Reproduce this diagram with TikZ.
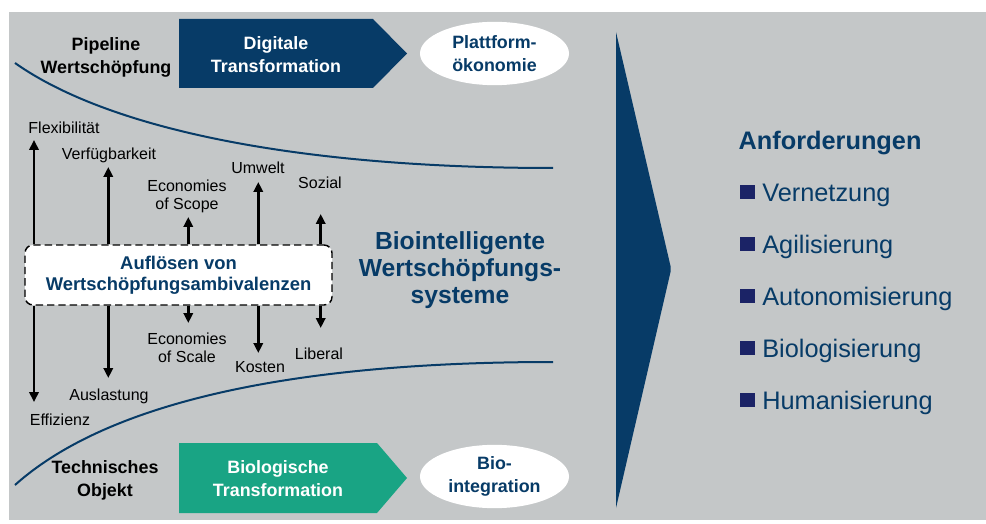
\documentclass[tikz,border=0pt]{standalone}
\usepackage{fontspec}
\setmainfont{Liberation Sans}
\usepackage{tikz}
\usetikzlibrary{arrows.meta,shapes.geometric}

\definecolor{bggray}{RGB}{196,199,200}
\definecolor{dblue}{RGB}{7,59,103}
\definecolor{biogreen}{RGB}{25,164,132}
\definecolor{navy}{RGB}{27,35,102}

\begin{document}
\begin{tikzpicture}[x=0.75pt,y=-0.75pt,
	lbl/.style={inner sep=0pt,font=\fontsize{12}{13.7}\selectfont,align=center},
	hdr/.style={inner sep=0pt,font=\bfseries\fontsize{13.4}{17.25}\selectfont,align=center},
	pole/.style={line width=1.9pt,-{Triangle[length=7.5pt,width=7pt]}},
	wave/.style={line width=1.5pt,dblue},
	oval/.style={ellipse,fill=white,minimum width=111.75pt,minimum height=47.5pt,inner sep=0pt,hdr,text=dblue},
	ambbox/.style={draw=black,line width=1.1pt,dash pattern=on 5.5pt off 3pt,fill=white,rounded corners=6pt,
		minimum width=230.25pt,minimum height=45pt,inner sep=0pt,align=center,text=dblue,
		font=\bfseries\fontsize{13.8}{15.75}\selectfont},
	req/.style={inner sep=0pt,anchor=base west,text=dblue,font=\fontsize{19}{22}\selectfont},
	bullet/.style={fill=navy,minimum size=10.9pt,inner sep=0pt}]

	\fill[white] (0,0) rectangle (986,524);
	\useasboundingbox (0,0) rectangle (986,524);
	\fill[bggray] (9,12) rectangle (986,520);

	% transformation arrows and their outcomes
	\fill[dblue] (179,19) -- (373,19) -- (407,53.5) -- (373,88) -- (179,88) -- cycle;
	\node[hdr,text=white] (digi) at (276,55) {Digitale\\Transformation};
	\fill[biogreen] (179,443) -- (377,443) -- (407,478) -- (377,513) -- (179,513) -- cycle;
	\node[hdr,text=white] (bio) at (278,478.5) {Biologische\\Transformation};
	\node[oval] (platt) at (494.5,53.5) {Plattform-\\ökonomie};
	\node[oval] (bioint) at (494.5,476.5) {Bio-\\integration};

	\node[hdr] (pipe) at (106,57) {Pipeline\\Wertschöpfung};
	\node[hdr] (tech) at (105,480.4) {Technisches\\Objekt};

	\draw[wave] (15,63) .. controls (110,130) and (300,168) .. (553,168);
	\draw[wave] (15,485) .. controls (110,400) and (300,362) .. (553,362);

	% ambivalences
	\node[ambbox] (amb) at (178.5,275) {Auflösen von\\Wertschöpfungsambivalenzen};
	\foreach \x/\up/\dn [count=\i] in {34/140/402,108.3/167/378,188.3/217/323,258.3/182/353,320.7/214/328}{
		\coordinate (hi\i) at (\x,\up);
		\coordinate (lo\i) at (\x,\dn);
		\draw[pole] (amb.north -| hi\i) -- (hi\i);
		\draw[pole] (amb.south -| lo\i) -- (lo\i);
	}
	\node[lbl,anchor=base] (flex) at (64,134) {Flexibilität};
	\node[lbl,anchor=base] (verf) at (109,160) {Verfügbarkeit};
	\node[lbl] (scope) at (187,196) {Economies\\of Scope};
	\node[lbl,anchor=base] (umw) at (258,174) {Umwelt};
	\node[lbl,anchor=base] (soz) at (320,189) {Sozial};
	\node[lbl] (scale) at (187,348) {Economies\\of Scale};
	\node[lbl,anchor=base] (kost) at (260,372) {Kosten};
	\node[lbl,anchor=base] (lib) at (319,359) {Liberal};
	\node[lbl,anchor=base] (ausl) at (109,400) {Auslastung};
	\node[lbl,anchor=base] (eff) at (60,425) {Effizienz};

	\node[text=dblue,align=center,inner sep=0pt,font=\bfseries\fontsize{18.5}{20.25}\selectfont] (bws) at (460,270.6)
		{Biointelligente\\Wertschöpfungs-\\systeme};

	\fill[dblue] (616,32) -- (670.5,266) -- (670.5,272) -- (616,508) -- cycle;

	% requirements
	\node[req,font=\bfseries\fontsize{19}{22}\selectfont] (anf) at (738.3,150) {Anforderungen};
	\foreach \req [count=\i] in {Vernetzung,Agilisierung,Autonomisierung,Biologisierung,Humanisierung}{
		\node[bullet] (sq\i) at (747.5,{192.2+51.9*(\i-1)}) {};
		\node[req] (rq\i) at (762,{201.7+51.9*(\i-1)}) {\req};
	}
\end{tikzpicture}
\end{document}
